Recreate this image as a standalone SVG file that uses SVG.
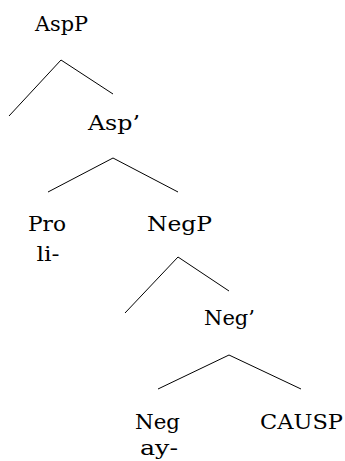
<svg xmlns="http://www.w3.org/2000/svg" width="345" height="461" viewBox="0 0 345 461">
<style>
text { font-family: "DejaVu Serif", "Liberation Serif", serif; font-size: 21px; fill: #000; }
.edge { stroke: #000; stroke-width: 1; fill: none; }
</style>
<rect width="345" height="461" fill="#fff"/>
<g id="connectors">
<line class="edge" x1="61" y1="60" x2="9" y2="116"/>
<line class="edge" x1="61" y1="60" x2="113" y2="94"/>
<line class="edge" x1="113" y1="158" x2="48" y2="192"/>
<line class="edge" x1="113" y1="158" x2="178" y2="192"/>
<line class="edge" x1="178" y1="257" x2="125" y2="313"/>
<line class="edge" x1="178" y1="257" x2="229" y2="291"/>
<line class="edge" x1="229" y1="355" x2="158" y2="389"/>
<line class="edge" x1="229" y1="355" x2="301" y2="389"/>
</g>
<g id="AspP"><text x="35" y="31" textLength="53" lengthAdjust="spacingAndGlyphs">AspP</text></g>
<g id="AspBar"><text x="88" y="130" textLength="52" lengthAdjust="spacingAndGlyphs">Asp’</text></g>
<g id="Pro"><text x="28" y="231" textLength="38" lengthAdjust="spacingAndGlyphs">Pro</text><text x="36.5" y="261" textLength="23" lengthAdjust="spacingAndGlyphs">li-</text></g>
<g id="NegP"><text x="147" y="231" textLength="65" lengthAdjust="spacingAndGlyphs">NegP</text></g>
<g id="NegBar"><text x="204" y="325" textLength="51" lengthAdjust="spacingAndGlyphs">Neg’</text></g>
<g id="Neg"><text x="135" y="429" textLength="45" lengthAdjust="spacingAndGlyphs">Neg</text><text x="140" y="455" textLength="38" lengthAdjust="spacingAndGlyphs">ay-</text></g>
<g id="CAUSP"><text x="260" y="429" textLength="83" lengthAdjust="spacingAndGlyphs">CAUSP</text></g>
</svg>
